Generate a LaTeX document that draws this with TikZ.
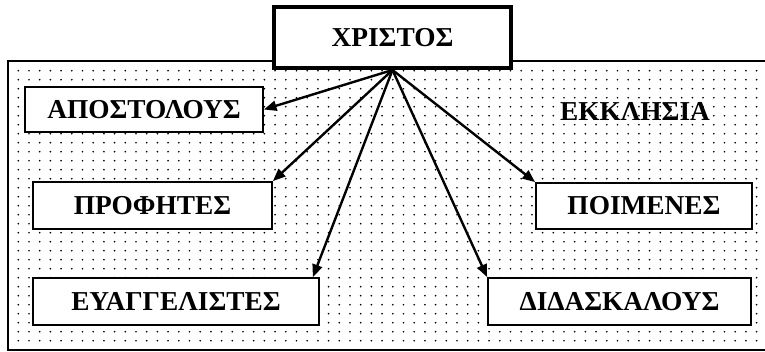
\documentclass[tikz,border=0pt]{standalone}
\usepackage{fontspec}
\setmainfont{Liberation Serif}
\usetikzlibrary{arrows.meta,calc,backgrounds}

\tikzset{
  titlos/.style={draw, line width=1.3pt, fill=white, inner sep=0pt,
    font=\fontsize{20.5}{24}\selectfont\bfseries},
  velos/.style={line width=1.8pt, -{Triangle[length=9.5pt,width=7.5pt]}}
}

\begin{document}
\begin{tikzpicture}[x=0.75pt,y=-0.75pt]
\useasboundingbox (0,0) rectangle (765,351);
% church area
\draw[line width=1pt, fill=white] (8,61) rectangle (775,350);
\foreach \i in {0,...,69}
  \foreach \j in {0,...,30}
    \fill ({18.3+10.7*\i},{70.7+9*\j}) circle[radius=0.7pt];
\node[font=\fontsize{20.5}{24}\selectfont\bfseries] (ekklisia) at (635,111) {ΕΚΚΛΗΣΙΑ};

\node[titlos, line width=3pt, minimum width=177.75pt, minimum height=45.75pt] (xristos) at (392.5,37.5) {ΧΡΙΣΤΟΣ};

\node[titlos, minimum width=178.5pt, minimum height=33.75pt] (apostolous) at (144,109.5) {ΑΠΟΣΤΟΛΟΥΣ};
\node[titlos, minimum width=179.25pt, minimum height=35.25pt] (profites) at (152.5,205.5) {ΠΡΟΦΗΤΕΣ};
\node[titlos, minimum width=214.5pt, minimum height=35.25pt] (evangelistes) at (176,301.5) {ΕΥΑΓΓΕΛΙΣΤΕΣ};
\node[titlos, minimum width=162pt, minimum height=34.5pt] (poimenes) at (644,206) {ΠΟΙΜΕΝΕΣ};
\node[titlos, minimum width=197.25pt, minimum height=35.25pt] (didaskalous) at (619.5,301.5) {ΔΙΔΑΣΚΑΛΟΥΣ};

% arrows
\draw[velos] (xristos.south) -- (apostolous.east);
\draw[velos] (xristos.south) -- (profites.north east);
\draw[velos] (xristos.south) -- ($(evangelistes.north east)+(-7,0)$);
\draw[velos] (xristos.south) -- (poimenes.north west);
\draw[velos] (xristos.south) -- (didaskalous.north west);
\end{tikzpicture}
\end{document}
